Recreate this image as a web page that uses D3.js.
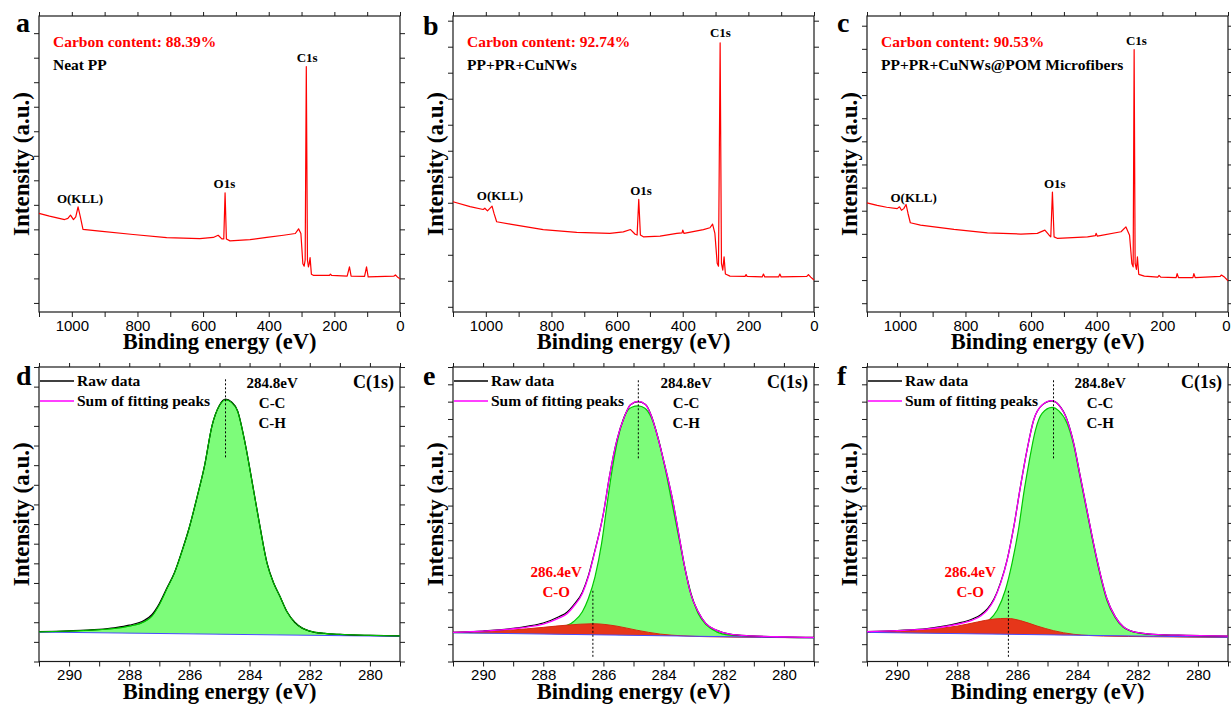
<!DOCTYPE html>
<html>
<head>
<meta charset="utf-8">
<script src="https://cdn.jsdelivr.net/npm/d3@7"></script>
<style>
  body { margin: 0; background: #fff; }
  svg text { font-family: 'Liberation Serif', 'Times New Roman', serif; font-weight: bold; }
  .tick text { font-family: 'Liberation Sans', Arial, sans-serif; font-weight: normal; font-size: 15px; fill: #000; }
</style>
</head>
<body>
<svg id="chart" width="1231" height="706"></svg>
<script>
// ---- survey spectra (a, b, c): [binding energy eV, intensity a.u.]
const surveyA = [[1100, 3.65], [1068, 3.54], [1022, 3.40], [1012, 3.45], [1004, 3.58], [995, 3.40], [988, 3.51],
  [981, 3.92], [974, 3.51], [966, 3.00], [915, 2.93], [813, 2.79], [711, 2.66], [610, 2.62], [569, 2.67], [554, 2.76],
  [543, 2.61], [537, 2.61], [533, 4.49], [529, 2.61], [518, 2.53], [457, 2.58], [406, 2.67], [355, 2.76], [319, 2.83],
  [309, 3.02], [302, 2.83], [296, 1.60], [292, 1.50], [289, 1.75], [285.5, 9.64], [282, 1.75], [279, 1.47], [276.5, 1.60],
  [274, 1.85], [270, 1.17], [263, 1.12], [215, 1.12], [212, 1.17], [208, 1.12], [161, 1.09], [154, 1.47], [149, 1.09],
  [108, 1.08], [102, 1.47], [97, 1.06], [19, 1.09], [14, 1.14], [8, 1.06], [0, 0.98]];
const surveyB = [[1100, 4.04], [1048, 3.85], [1008, 3.74], [1003, 3.79], [995, 3.69], [981, 3.87], [975, 3.59],
  [967, 3.27], [926, 3.18], [825, 2.97], [723, 2.86], [622, 2.82], [581, 2.88], [559, 2.97], [545, 2.79], [539, 2.76],
  [534, 4.13], [529, 2.76], [520, 2.69], [469, 2.72], [418, 2.82], [402, 2.84], [400, 2.95], [396, 2.82], [337, 2.97],
  [317, 3.04], [309, 3.18], [302, 2.82], [295, 1.67], [291, 1.56], [286, 10.15], [282, 1.67], [278, 1.41], [274, 1.92],
  [270, 1.26], [256, 1.18], [210, 1.17], [207, 1.24], [204, 1.17], [158, 1.15], [154, 1.26], [150, 1.15], [108, 1.15],
  [104, 1.26], [100, 1.15], [22, 1.17], [17, 1.24], [10, 1.14], [0, 1.03]];
const surveyC = [[1100, 4.34], [1069, 4.23], [1040, 4.15], [1008, 4.09], [1001, 4.17], [995, 4.02], [988, 4.09],
  [981, 4.27], [975, 3.88], [968, 3.48], [937, 3.38], [835, 3.19], [733, 3.04], [631, 2.99], [581, 3.02], [558, 3.16],
  [545, 2.94], [540, 2.87], [535, 4.81], [530, 2.87], [519, 2.80], [428, 2.87], [404, 2.92], [402, 3.02], [398, 2.90],
  [326, 3.09], [311, 3.30], [300, 2.94], [293, 1.72], [289, 1.57], [286, 10.97], [283, 1.72], [279, 1.46], [276, 2.00],
  [272, 1.25], [255, 1.17], [214, 1.13], [210, 1.20], [205, 1.13], [158, 1.11], [155, 1.28], [151, 1.11], [107, 1.11],
  [104, 1.28], [100, 1.11], [24, 1.16], [20, 1.22], [10, 1.12], [0, 0.97]];

const surveySeries = [surveyA, surveyB, surveyC];
const surveyLetters = ['a', 'b', 'c'];
const carbonContent = ['88.39%', '92.74%', '90.53%'];
const sampleNames = ['Neat PP', 'PP+PR+CuNWs', 'PP+PR+CuNWs@POM Microfibers'];
const surveyYDomains = [[-0.37, 11.7], [-0.2, 11.18], [-0.38, 12.42]];
const surveyYTickCount = [11, 11, 12];
const surveyXTicks = d3.range(0, 1101, 100);
// peak labels: [text, energy, intensity at text baseline]
const surveyPeakLabels = [
  [['O(KLL)', 975, 4.07], ['O1s', 535, 4.68], ['C1s', 283, 9.82]],
  [['O(KLL)', 957, 4.10], ['O1s', 527, 4.30], ['C1s', 285, 10.37]],
  [['O(KLL)', 958, 4.37], ['O1s', 528, 4.98], ['C1s', 279, 11.17]]
];

// ---- C 1s high-resolution spectra (d, e, f)
const rawD = [[291, 1.52], [290, 1.56], [289, 1.64], [288.5, 1.72], [288, 1.85], [287.5, 2.10], [287.25, 2.38],
  [287, 2.95], [286.75, 3.74], [286.5, 4.52], [286.25, 5.62], [286, 6.85], [285.75, 8.35], [285.5, 9.95], [285.25, 12.0],
  [285, 13.05], [284.8, 13.36], [284.6, 13.22], [284.4, 12.78], [284.14, 11.06], [283.9, 9.02], [283.67, 7.02],
  [283.42, 5.02], [283.2, 4.0], [283, 3.35], [282.75, 2.52], [282.5, 2.0], [282.25, 1.70], [282, 1.55], [281.5, 1.43],
  [281, 1.38], [280, 1.33], [279, 1.30]];
const ccD = [[291, 1.51], [290, 1.55], [289, 1.62], [288.5, 1.68], [288, 1.80], [287.5, 2.03], [287.25, 2.30],
  [287, 2.90], [286.75, 3.70], [286.5, 4.50], [286.25, 5.60], [286, 6.85], [285.75, 8.35], [285.5, 9.95], [285.25, 12.0],
  [285, 13.05], [284.8, 13.33], [284.6, 13.2], [284.4, 12.75], [284.14, 11.04], [283.9, 9.0], [283.67, 7.0],
  [283.42, 5.0], [283.2, 4.0], [283, 3.35], [282.75, 2.52], [282.5, 2.0], [282.25, 1.70], [282, 1.55], [281.5, 1.43],
  [281, 1.38], [280, 1.33], [279, 1.30]];
const coD = [];
const sumD = [];
const bgD = [[291, 1.50], [279, 1.28]];

const rawE = [[291, 1.68], [290, 1.76], [289, 1.91], [288.5, 2.04], [288, 2.22], [287.5, 2.57], [287.2, 2.86],
  [287, 3.24], [286.7, 4.0], [286.5, 4.95], [286.3, 6.28], [286, 8.55], [285.8, 10.67], [285.55, 12.79], [285.3, 14.14],
  [285.1, 14.82], [284.84, 15.0], [284.6, 14.84], [284.4, 14.16], [284.2, 13.0], [283.95, 11.25], [283.7, 9.33],
  [283.5, 7.40], [283.3, 5.47], [283.1, 3.93], [282.85, 2.87], [282.6, 2.20], [282.25, 1.81], [281.8, 1.58],
  [281.1, 1.48], [280.25, 1.43], [279, 1.39]];
const sumE = [[291, 1.68], [290, 1.75], [289, 1.89], [288.5, 2.00], [288, 2.16], [287.5, 2.49], [287.2, 2.77],
  [287, 3.16], [286.7, 3.93], [286.5, 4.89], [286.3, 6.24], [286, 8.55], [285.8, 10.67], [285.55, 12.79], [285.3, 14.14],
  [285.1, 14.82], [284.84, 15.01], [284.6, 14.82], [284.4, 14.14], [284.2, 12.99], [283.95, 11.25], [283.7, 9.33],
  [283.5, 7.40], [283.3, 5.47], [283.1, 3.93], [282.85, 2.87], [282.6, 2.20], [282.25, 1.81], [281.8, 1.58],
  [281.1, 1.48], [280.25, 1.43], [279, 1.39]];
const ccE = [[291, 1.66], [289, 1.68], [288, 1.75], [287.5, 1.91], [287, 2.29], [286.7, 2.87], [286.5, 3.64],
  [286.28, 4.89], [286.06, 6.82], [285.89, 8.94], [285.72, 10.96], [285.5, 12.99], [285.28, 14.24], [285.06, 14.68],
  [284.84, 14.76], [284.62, 14.62], [284.4, 14.05], [284.18, 12.89], [283.95, 11.16], [283.73, 9.23], [283.51, 7.30],
  [283.29, 5.38], [283.07, 3.83], [282.85, 2.77], [282.57, 2.10], [282.24, 1.71], [281.8, 1.52], [281.13, 1.45],
  [279, 1.37]];
const coE = [[291, 1.68], [289.1, 1.81], [288, 1.97], [287.2, 2.10], [286.35, 2.18], [285.55, 2.04], [284.9, 1.81],
  [284.1, 1.58], [283.35, 1.48], [282.5, 1.43], [279, 1.37]];
const bgE = [[291, 1.66], [279, 1.36]];

const rawF = [[291, 1.72], [290, 1.79], [289, 1.90], [288, 2.20], [287.48, 2.47], [287.22, 2.70], [287, 3.03],
  [286.78, 3.60], [286.56, 4.55], [286.34, 5.88], [286.12, 7.78], [285.9, 10.09], [285.68, 12.21], [285.46, 13.94],
  [285.18, 14.80], [284.85, 15.04], [284.63, 14.82], [284.35, 13.96], [284.13, 12.61], [283.91, 10.69], [283.69, 8.76],
  [283.47, 6.82], [283.25, 5.09], [283.03, 3.65], [282.75, 2.59], [282.48, 2.01], [282.04, 1.68], [281.48, 1.57],
  [280.38, 1.51], [279, 1.47]];
const sumF = [[291, 1.72], [290, 1.78], [289, 1.88], [288, 2.15], [287.48, 2.40], [287.22, 2.63], [287, 2.97],
  [286.78, 3.55], [286.56, 4.51], [286.34, 5.86], [286.12, 7.78], [285.9, 10.09], [285.68, 12.21], [285.46, 13.94],
  [285.18, 14.81], [284.85, 15.06], [284.63, 14.81], [284.35, 13.94], [284.13, 12.59], [283.91, 10.67], [283.69, 8.75],
  [283.47, 6.82], [283.25, 5.09], [283.03, 3.65], [282.75, 2.59], [282.48, 2.01], [282.04, 1.68], [281.48, 1.57],
  [280.38, 1.51], [279, 1.47]];
const ccF = [[291, 1.68], [289, 1.70], [288, 1.76], [287.48, 1.91], [287, 2.30], [286.67, 2.97], [286.4, 4.13],
  [286.18, 5.67], [285.95, 7.78], [285.79, 9.71], [285.62, 11.44], [285.4, 13.36], [285.18, 14.32], [284.85, 14.67],
  [284.63, 14.48], [284.35, 13.75], [284.13, 12.50], [283.91, 10.58], [283.69, 8.65], [283.47, 6.73], [283.25, 4.99],
  [283.03, 3.55], [282.75, 2.53], [282.48, 1.97], [282.04, 1.66], [281.48, 1.55], [279, 1.43]];
const coF = [[291, 1.68], [288.98, 1.86], [287.98, 2.05], [287.33, 2.28], [286.78, 2.45], [286.34, 2.49], [285.9, 2.36],
  [285.35, 2.05], [284.8, 1.78], [284.13, 1.57], [283.14, 1.47], [281.48, 1.43], [279, 1.39]];
const bgF = [[291, 1.68], [279, 1.40]];

const hrRaw = [rawD, rawE, rawF];
const hrSum = [sumD, sumE, sumF];
const hrCC = [ccD, ccE, ccF];
const hrCO = [coD, coE, coF];
const hrBg = [bgD, bgE, bgF];
const hrLetters = ['d', 'e', 'f'];
const hrYDomains = [[0, 15], [0, 17], [0, 17]];
const hrXTicks = d3.range(279, 292, 1);
// dashed markers: [energy, from, to]
const ccMarkers = [[284.8, 10.4, 14.4], [284.84, 11.73, 16.3], [284.8, 11.73, 16.3]];
const coMarkers = [null, [286.35, 0.27, 4.08], [286.3, 0.27, 4.08]];
const coLabelPos = [287.57, 287.57];

// ---- layout
const svg = d3.select('#chart');
const colLeft = [39, 453, 867];
const panelW = 361;
const topRow = { y: 16, h: 296 };
const botRow = { y: 367, h: 294.5 };
const ink = '#1a1a1a';

function drawAxes(g, x, y, w, h, xTicks, labelEvery, yTicks, lastCol) {
  const bottom = g.append('g')
    .attr('transform', `translate(0,${h})`)
    .call(d3.axisBottom(x).tickValues(xTicks).tickSize(5).tickPadding(3)
      .tickFormat((d) => (d % labelEvery === 0 ? d : '')));
  // keep the edge label of the last column inside the picture
  if (lastCol) bottom.selectAll('.tick text').filter((d) => x(d) >= w - 1).attr('dx', -2);

  g.append('g').call(d3.axisTop(x).tickValues(xTicks).tickSize(4).tickFormat(''));
  g.append('g').call(d3.axisLeft(y).tickValues(yTicks).tickSize(5).tickFormat(''));
  g.append('g')
    .attr('transform', `translate(${w},0)`)
    .call(d3.axisRight(y).tickValues(yTicks).tickSize(5).tickFormat(''));
  g.selectAll('.domain').remove();
  g.selectAll('.tick line').attr('stroke', ink).attr('stroke-width', 1);

  g.append('rect')
    .attr('width', w).attr('height', h)
    .attr('fill', 'none').attr('stroke', ink).attr('stroke-width', 1.2);

  g.append('text')
    .attr('x', w / 2).attr('y', h + 37)
    .attr('text-anchor', 'middle')
    .attr('font-size', 22.5)
    .text('Binding energy (eV)');

  g.append('text')
    .attr('transform', `translate(-10,${h / 2}) rotate(-90)`)
    .attr('text-anchor', 'middle')
    .attr('font-size', 23)
    .text('Intensity (a.u.)');
}

// survey panels
surveySeries.forEach((series, i) => {
  const g = svg.append('g').attr('transform', `translate(${colLeft[i]},${topRow.y})`);
  const x = d3.scaleLinear().domain([1100, 0]).range([0, panelW]);
  const y = d3.scaleLinear().domain(surveyYDomains[i]).range([topRow.h, 0]);

  drawAxes(g, x, y, panelW, topRow.h, surveyXTicks, 200, d3.range(0, surveyYTickCount[i] + 1), i === 2);

  const line = d3.line().x((d) => x(d[0])).y((d) => y(d[1]));
  g.append('path')
    .datum(series)
    .attr('d', line)
    .attr('fill', 'none')
    .attr('stroke', '#ff0000')
    .attr('stroke-width', 1.2)
    .attr('stroke-linejoin', 'round');

  g.selectAll('text.peak')
    .data(surveyPeakLabels[i])
    .enter()
    .append('text')
    .attr('class', 'peak')
    .attr('x', (d) => x(d[1]))
    .attr('y', (d) => y(d[2]))
    .attr('text-anchor', 'middle')
    .attr('font-size', 13)
    .text((d) => d[0]);

  g.append('text')
    .attr('x', i === 0 ? -23 : -30).attr('y', i === 1 ? 19 : 16)
    .attr('font-size', 28)
    .text(surveyLetters[i]);

  g.append('text')
    .attr('x', 14).attr('y', 31)
    .attr('font-size', 15.5)
    .attr('fill', '#ff0000')
    .text(`Carbon content: ${carbonContent[i]}`);

  g.append('text')
    .attr('x', 14).attr('y', 54)
    .attr('font-size', 15.5)
    .text(sampleNames[i]);
});

// C 1s panels
hrRaw.forEach((raw, i) => {
  const g = svg.append('g').attr('transform', `translate(${colLeft[i]},${botRow.y})`);
  const x = d3.scaleLinear().domain([291, 279]).range([0, panelW]);
  const y = d3.scaleLinear().domain(hrYDomains[i]).range([botRow.h, 0]);
  const bg = d3.scaleLinear().domain(hrBg[i].map((d) => d[0])).range(hrBg[i].map((d) => d[1]));

  drawAxes(g, x, y, panelW, botRow.h, hrXTicks, 2, d3.range(hrYDomains[i][0], hrYDomains[i][1] + 1), false);

  const area = d3.area()
    .curve(d3.curveMonotoneX)
    .x((d) => x(d[0]))
    .y0((d) => y(bg(d[0])))
    .y1((d) => y(d[1]));
  const line = d3.line()
    .curve(d3.curveMonotoneX)
    .x((d) => x(d[0]))
    .y((d) => y(d[1]));

  g.append('path').datum(hrCC[i]).attr('d', area).attr('fill', '#7dfc7a');
  g.append('path').datum(hrCC[i]).attr('d', line)
    .attr('fill', 'none').attr('stroke', '#00c800').attr('stroke-width', 1.2);

  if (hrCO[i].length) {
    g.append('path').datum(hrCO[i]).attr('d', area).attr('fill', '#e6361a');
    g.append('path').datum(hrCO[i]).attr('d', line)
      .attr('fill', 'none').attr('stroke', '#d42a10').attr('stroke-width', 1);
  }

  g.append('path').datum(hrBg[i]).attr('d', line)
    .attr('fill', 'none').attr('stroke', '#4a4aff').attr('stroke-width', 1);

  g.append('path').datum(raw).attr('d', line)
    .attr('fill', 'none').attr('stroke', '#000').attr('stroke-width', 1.2);

  if (hrSum[i].length) {
    g.append('path').datum(hrSum[i]).attr('d', line)
      .attr('fill', 'none').attr('stroke', '#ff00ff').attr('stroke-width', 1.3);
  } else {
    g.append('path').datum(hrCC[i]).attr('d', line)
      .attr('fill', 'none').attr('stroke', '#00c800').attr('stroke-width', 1);
  }

  // dashed peak markers
  const markers = [ccMarkers[i], coMarkers[i]].filter((m) => m);
  g.selectAll('line.marker')
    .data(markers)
    .enter()
    .append('line')
    .attr('class', 'marker')
    .attr('x1', (d) => x(d[0])).attr('x2', (d) => x(d[0]))
    .attr('y1', (d) => y(d[1])).attr('y2', (d) => y(d[2]))
    .attr('stroke', '#000').attr('stroke-width', 1)
    .attr('stroke-dasharray', '2,2');

  // legend
  const legend = [['Raw data', '#000'], ['Sum of fitting peaks', '#ff00ff']];
  legend.forEach((row, k) => {
    const ly = 14 + k * 20;
    g.append('line').attr('x1', 1).attr('x2', 35).attr('y1', ly).attr('y2', ly)
      .attr('stroke', row[1]).attr('stroke-width', 1.3);
    g.append('text').attr('x', 38).attr('y', ly + 5).attr('font-size', 15.5).text(row[0]);
  });

  g.append('text').attr('x', i === 0 ? -23 : -30).attr('y', 18).attr('font-size', 28).text(hrLetters[i]);
  g.append('text').attr('x', panelW - 6).attr('y', 21).attr('text-anchor', 'end')
    .attr('font-size', 18).text('C(1s)');

  ['284.8eV', 'C-C', 'C-H'].forEach((t, k) => {
    g.append('text').attr('x', x(283.25)).attr('y', 21 + k * 20)
      .attr('text-anchor', 'middle').attr('font-size', 15).text(t);
  });

  if (i > 0) {
    ['286.4eV', 'C-O'].forEach((t, k) => {
      g.append('text').attr('x', x(coLabelPos[i - 1])).attr('y', 210 + k * 20)
        .attr('text-anchor', 'middle').attr('font-size', 15)
        .attr('fill', '#ff0000').text(t);
    });
  }
});
</script>
</body>
</html>
